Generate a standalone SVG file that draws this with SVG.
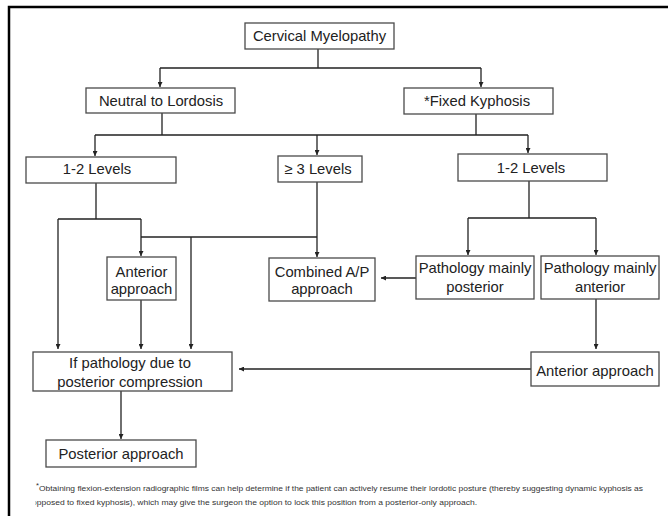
<svg xmlns="http://www.w3.org/2000/svg" width="668" height="516" viewBox="0 0 668 516">
<style>
.box{fill:#fff;stroke:#4a4a4a;stroke-width:1.3}
.t{font-family:"Liberation Sans",Arial,sans-serif;font-size:14.8px;fill:#222;text-anchor:middle}
.fn{font-family:"Liberation Sans",Arial,sans-serif;font-size:7.6px;fill:#333}
.c{fill:none;stroke:#222;stroke-width:1.3}
.a{fill:none;stroke:#222;stroke-width:1.3;marker-end:url(#ah)}
</style>
<defs>
<marker id="ah" viewBox="0 0 6 6" refX="6" refY="3" markerWidth="5" markerHeight="5" markerUnits="userSpaceOnUse" orient="auto">
<path d="M0,0 L6,3 L0,6 z" fill="#222"/>
</marker>
<clipPath id="fnclip"><rect x="35.5" y="470" width="640" height="46"/></clipPath>
</defs>
<rect x="0" y="0" width="668" height="516" fill="#fff"/>
<path d="M9,516 V7 H668" fill="none" stroke="#000" stroke-width="2.5"/>

<g id="connectors">
<path class="c" d="M318,49 V68 M160,68 H481"/>
<path class="a" d="M160,68 V87"/>
<path class="a" d="M481,68 V87"/>
<path class="c" d="M162,113 V135 M476,114 V135 M95,135 H528"/>
<path class="a" d="M95,135 V156"/>
<path class="a" d="M317,135 V155"/>
<path class="a" d="M528,135 V153"/>
<path class="c" d="M96,183 V219 M58,219 H141"/>
<path class="a" d="M58,219 V349"/>
<path class="a" d="M141,219 V256"/>
<path class="a" d="M317,182 V257"/>
<path class="c" d="M141,237 H317"/>
<path class="a" d="M191,237 V349"/>
<path class="a" d="M141,300 V349"/>
<path class="c" d="M529,181 V218 M468,218 H596"/>
<path class="a" d="M468,218 V255"/>
<path class="a" d="M596,218 V255"/>
<path class="a" d="M416,278 H381"/>
<path class="a" d="M596,299 V349"/>
<path class="a" d="M531,369 H239"/>
<path class="a" d="M121,391 V439"/>
</g>

<g id="cervical-myelopathy">
<rect class="box" x="245" y="23" width="149" height="26"/>
<text class="t" x="319.5" y="41">Cervical Myelopathy</text>
</g>
<g id="neutral-to-lordosis">
<rect class="box" x="86" y="88" width="149" height="25"/>
<text class="t" x="161" y="106">Neutral to Lordosis</text>
</g>
<g id="fixed-kyphosis">
<rect class="box" x="404" y="88" width="149" height="26"/>
<text class="t" x="477" y="106">*Fixed Kyphosis</text>
</g>
<g id="levels-1-2-left">
<rect class="box" x="26" y="157" width="150" height="26"/>
<text class="t" x="97" y="174">1-2 Levels</text>
</g>
<g id="levels-3">
<rect class="box" x="278" y="156" width="84" height="26"/>
<text class="t" x="318" y="174">≥ 3 Levels</text>
</g>
<g id="levels-1-2-right">
<rect class="box" x="458" y="154" width="149" height="27"/>
<text class="t" x="531" y="173">1-2 Levels</text>
</g>
<g id="anterior-approach-left">
<rect class="box" x="107" y="257" width="69" height="43"/>
<text class="t" x="141.5" y="277">Anterior</text>
<text class="t" x="141.5" y="294">approach</text>
</g>
<g id="combined-ap">
<rect class="box" x="269" y="258" width="106" height="43"/>
<text class="t" x="322" y="277">Combined A/P</text>
<text class="t" x="322" y="294">approach</text>
</g>
<g id="pathology-posterior">
<rect class="box" x="416" y="256" width="118" height="43"/>
<text class="t" x="475" y="273">Pathology mainly</text>
<text class="t" x="475" y="292">posterior</text>
</g>
<g id="pathology-anterior">
<rect class="box" x="541" y="256" width="118" height="43"/>
<text class="t" x="600" y="273">Pathology mainly</text>
<text class="t" x="600" y="292">anterior</text>
</g>
<g id="if-pathology">
<rect class="box" x="33" y="352" width="199" height="39"/>
<text class="t" x="130" y="368">If pathology due to</text>
<text class="t" x="130" y="387">posterior compression</text>
</g>
<g id="anterior-approach-right">
<rect class="box" x="531" y="352" width="128" height="34"/>
<text class="t" x="595" y="376">Anterior approach</text>
</g>
<g id="posterior-approach">
<rect class="box" x="46" y="440" width="150" height="27"/>
<text class="t" x="121" y="459">Posterior approach</text>
</g>

<g id="footnote">
<text class="fn" x="36" y="488" font-size="5">*</text>
<text class="fn" x="39" y="491" textLength="604" lengthAdjust="spacingAndGlyphs">Obtaining flexion-extension radiographic films can help determine if the patient can actively resume their lordotic posture (thereby suggesting dynamic kyphosis as</text>
<text class="fn" x="32" y="505" textLength="445" lengthAdjust="spacingAndGlyphs" clip-path="url(#fnclip)">opposed to fixed kyphosis), which may give the surgeon the option to lock this position from a posterior-only approach.</text>
</g>
</svg>
